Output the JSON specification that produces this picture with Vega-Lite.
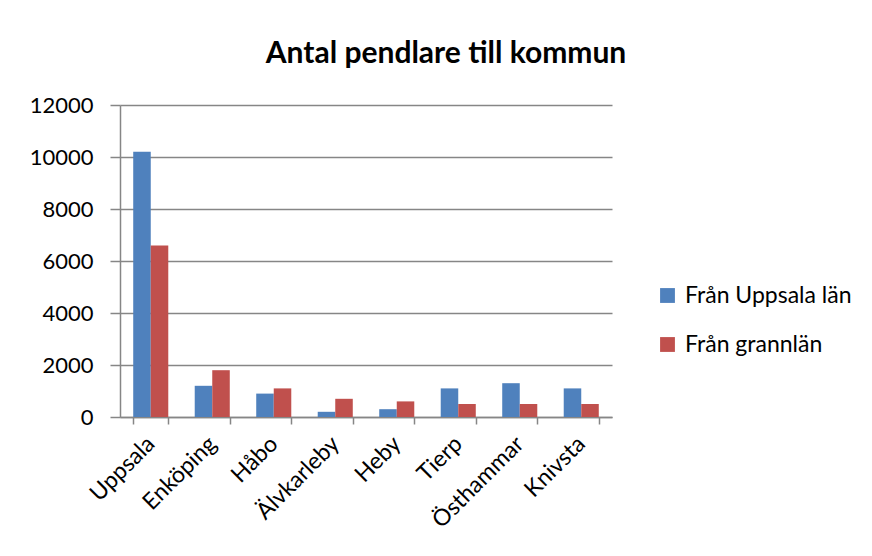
{
  "$schema": "https://vega.github.io/schema/vega-lite/v6.json",
  "width": 492,
  "height": 312,
  "autosize": "none",
  "padding": {"left": 120, "top": 105, "right": 260, "bottom": 139},
  "background": "white",
  "title": {
    "text": "Antal pendlare till kommun",
    "font": "Lato",
    "fontSize": 30,
    "fontWeight": "bold",
    "color": "black",
    "anchor": "middle",
    "frame": "group",
    "dx": 80,
    "offset": 25
  },
  "data": {
    "values": [
      {"kommun": "Uppsala", "serie": "Från Uppsala län", "antal": 10200},
      {"kommun": "Uppsala", "serie": "Från grannlän", "antal": 6600},
      {"kommun": "Enköping", "serie": "Från Uppsala län", "antal": 1200},
      {"kommun": "Enköping", "serie": "Från grannlän", "antal": 1800},
      {"kommun": "Håbo", "serie": "Från Uppsala län", "antal": 900},
      {"kommun": "Håbo", "serie": "Från grannlän", "antal": 1100},
      {"kommun": "Älvkarleby", "serie": "Från Uppsala län", "antal": 200},
      {"kommun": "Älvkarleby", "serie": "Från grannlän", "antal": 700},
      {"kommun": "Heby", "serie": "Från Uppsala län", "antal": 300},
      {"kommun": "Heby", "serie": "Från grannlän", "antal": 600},
      {"kommun": "Tierp", "serie": "Från Uppsala län", "antal": 1100},
      {"kommun": "Tierp", "serie": "Från grannlän", "antal": 500},
      {"kommun": "Östhammar", "serie": "Från Uppsala län", "antal": 1300},
      {"kommun": "Östhammar", "serie": "Från grannlän", "antal": 500},
      {"kommun": "Knivsta", "serie": "Från Uppsala län", "antal": 1100},
      {"kommun": "Knivsta", "serie": "Från grannlän", "antal": 500}
    ]
  },
  "mark": {"type": "bar"},
  "encoding": {
    "x": {
      "field": "kommun",
      "type": "nominal",
      "sort": null,
      "title": null,
      "scale": {"paddingInner": 0.43, "paddingOuter": 0.215},
      "axis": {
        "labelAngle": -45,
        "labelAlign": "right",
        "labelBaseline": "middle",
        "labelFont": "Lato",
        "labelFontSize": 23,
        "labelColor": "black",
        "labelPadding": 16,
        "labelLimit": 300,
        "tickBand": "extent",
        "tickColor": "#868686",
        "tickSize": 7,
        "tickWidth": 1.5,
        "domainColor": "#868686",
        "domainWidth": 1.5,
        "grid": false
      }
    },
    "xOffset": {"field": "serie", "type": "nominal", "sort": ["Från Uppsala län", "Från grannlän"]},
    "y": {
      "field": "antal",
      "type": "quantitative",
      "title": null,
      "scale": {"domain": [0, 12000], "nice": false},
      "axis": {
        "values": [0, 2000, 4000, 6000, 8000, 10000, 12000],
        "format": "d",
        "labelFont": "Lato",
        "labelFontSize": 22,
        "labelColor": "black",
        "labelPadding": 17,
        "tickColor": "#868686",
        "tickSize": 10,
        "tickWidth": 1.5,
        "domainColor": "#868686",
        "domainWidth": 1.5,
        "gridColor": "#868686",
        "gridWidth": 1.5
      }
    },
    "color": {
      "field": "serie",
      "type": "nominal",
      "sort": ["Från Uppsala län", "Från grannlän"],
      "scale": {"domain": ["Från Uppsala län", "Från grannlän"], "range": ["#4F81BD", "#C0504D"]},
      "legend": {
        "title": null,
        "orient": "none",
        "legendX": 536,
        "legendY": 179,
        "symbolType": "square",
        "symbolSize": 220,
        "symbolStrokeWidth": 0,
        "labelFont": "Lato",
        "labelFontSize": 23,
        "labelLimit": 300,
        "labelColor": "black",
        "rowPadding": 25,
        "labelOffset": 6
      }
    }
  },
  "config": {"view": {"stroke": null}}
}
